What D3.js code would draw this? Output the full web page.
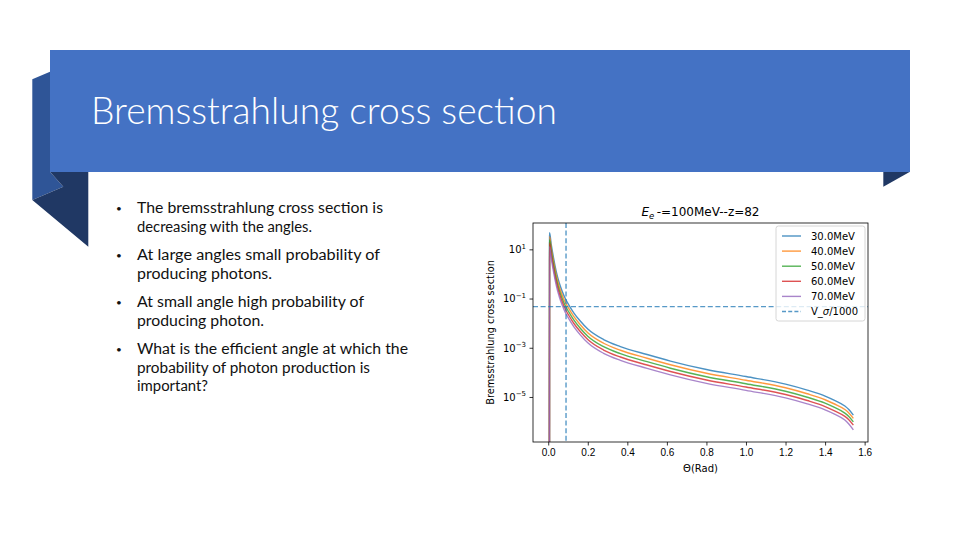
<!DOCTYPE html>
<html>
<head>
<meta charset="utf-8">
<script src="https://cdn.jsdelivr.net/npm/d3@7"></script>
<style>
  body { margin: 0; background: #fff; }
  svg { display: block; }
</style>
</head>
<body>
<svg id="slide" width="960" height="540"></svg>
<script>
// angle samples (rad)
const theta = [0.006, 0.0068, 0.015, 0.027, 0.04, 0.056, 0.07, 0.09, 0.103, 0.13, 0.162, 0.2,
  0.28, 0.365, 0.5, 0.618, 0.8, 1.0, 1.2, 1.31, 1.4, 1.445, 1.5, 1.52, 1.543];

// cross section per photon energy (first value is the zero that matplotlib clips)
const sigma30 = [0, 47, 16.4, 4.43, 1.312, 0.4266, 0.2018, 0.0869, 0.057, 0.02576, 0.01216, 0.00575,
  0.002153, 0.00112, 5.30e-4, 2.88e-4, 1.30e-4, 6.75e-5, 3.34e-5, 1.91e-5, 1.09e-5, 7.48e-6, 4.27e-6, 3.08e-6, 1.84e-6];
const sigma40 = [0, 33.2, 11.6, 3.13, 0.929, 0.302, 0.1429, 0.0615, 0.0404, 0.01824, 0.00861, 0.00407,
  0.001524, 7.92e-4, 3.75e-4, 2.04e-4, 9.20e-5, 4.78e-5, 2.37e-5, 1.35e-5, 7.71e-6, 5.30e-6, 3.09e-6, 2.25e-6, 1.35e-6];
const sigma50 = [0, 24.0, 8.41, 2.27, 0.673, 0.2188, 0.1035, 0.0446, 0.02924, 0.01321, 0.00624, 0.00295,
  0.001104, 5.74e-4, 2.72e-4, 1.476e-4, 6.67e-5, 3.46e-5, 1.71e-5, 9.77e-6, 5.58e-6, 3.84e-6, 2.21e-6, 1.61e-6, 9.75e-7];
const sigma60 = [0, 17.6, 6.17, 1.66, 0.493, 0.1603, 0.0759, 0.03266, 0.02143, 0.00968, 0.00457, 0.002163,
  8.09e-4, 4.21e-4, 1.99e-4, 1.081e-4, 4.89e-5, 2.54e-5, 1.256e-5, 7.16e-6, 4.09e-6, 2.81e-6, 1.62e-6, 1.18e-6, 7.14e-7];
const sigma70 = [0, 12.9, 4.52, 1.22, 0.3614, 0.1175, 0.0556, 0.02393, 0.0157, 0.0071, 0.00335, 0.001585,
  5.93e-4, 3.08e-4, 1.459e-4, 7.93e-5, 3.58e-5, 1.86e-5, 9.20e-6, 5.25e-6, 3.00e-6, 2.06e-6, 1.15e-6, 8.0e-7, 4.61e-7];

const seriesNames = ['30.0MeV', '40.0MeV', '50.0MeV', '60.0MeV', '70.0MeV'];
const seriesValues = [sigma30, sigma40, sigma50, sigma60, sigma70];
const seriesColors = ['#1f77b4', '#ff7f0e', '#2ca02c', '#d62728', '#9467bd'];

const vSigma = 0.047;     // V_sigma / 1000
const thetaCut = 0.09;    // vertical marker

const xTicks = [0, 0.2, 0.4, 0.6, 0.8, 1.0, 1.2, 1.4, 1.6];
const yTicks = [1e-5, 1e-3, 1e-1, 1e1];
const yTickExp = ['\u22125', '\u22123', '\u22121', '1'];

const bullets = [
  ['The bremsstrahlung cross section is', 'decreasing with the angles.'],
  ['At large  angles small probability of', 'producing photons.'],
  ['At small angle high probability of', 'producing photon.'],
  ['What is the efficient angle at which the', 'probability of photon production is', 'important?']
];
// measured line widths so the Calibri-like text fills the same space
const bulletWidths = [[246, 175], [243, 135], [227, 127], [271, 233, 71]];

const svg = d3.select('#slide');

// ---- slide decoration ----
svg.append('polygon')
  .attr('points', '32.3,79.3 50,71.7 50,171.7 63.3,186.7 32.3,200')
  .attr('fill', '#2f5597');
svg.append('polygon')
  .attr('points', '50,171.7 88.3,171.7 88.3,246.7 32.3,200 63.3,186.7')
  .attr('fill', '#203864');
svg.append('polygon')
  .attr('points', '883.3,171.7 910,171.7 883.3,186.7')
  .attr('fill', '#203864');
svg.append('rect')
  .attr('x', 50).attr('y', 50).attr('width', 860).attr('height', 122)
  .attr('fill', '#4472c4');

svg.append('text')
  .attr('x', 91).attr('y', 124)
  .attr('fill', '#fff')
  .style('font-family', 'Lato, "Open Sans", sans-serif')
  .style('font-weight', 300)
  .style('font-size', '37px')
  .attr('textLength', 466)
  .attr('lengthAdjust', 'spacingAndGlyphs')
  .text('Bremsstrahlung cross section');

// ---- bullets ----
const baselines = [[213, 231.5], [260, 278.5], [307, 325.5], [354, 372.5, 391]];
const bulletG = svg.append('g')
  .style('font-family', 'Lato, "Open Sans", sans-serif')
  .style('font-size', '14.5px')
  .attr('fill', '#111');
bullets.forEach((lines, i) => {
  bulletG.append('text')
    .attr('x', 116).attr('y', baselines[i][0] - 1)
    .style('font-size', '10px')
    .text('\u2022');
  lines.forEach((line, j) => {
    bulletG.append('text')
      .attr('x', 137).attr('y', baselines[i][j])
      .attr('textLength', bulletWidths[i][j])
      .attr('lengthAdjust', 'spacingAndGlyphs')
      .text(line);
  });
});

// ---- chart ----
const plot = { left: 533, right: 868, top: 223, bottom: 442 };

const x = d3.scaleLinear()
  .domain([-0.077, 1.617])
  .range([plot.left, plot.right]);

const y = d3.scaleLog()
  .domain([Math.pow(10, -6.83), Math.pow(10, 2.07)])
  .range([plot.bottom, plot.top]);

const chart = svg.append('g')
  .style('font-family', '"DejaVu Sans", sans-serif');

chart.append('clipPath').attr('id', 'plot-clip')
  .append('rect')
  .attr('x', plot.left).attr('y', plot.top)
  .attr('width', plot.right - plot.left).attr('height', plot.bottom - plot.top);

// non-positive values are clipped below the axes, like matplotlib does on log axes
const line = d3.line()
  .x(d => x(d[0]))
  .y(d => d[1] > 0 ? y(d[1]) : plot.bottom + 60)
  .curve(d3.curveMonotoneX);

const lines = chart.append('g').attr('clip-path', 'url(#plot-clip)');

seriesValues.forEach((vals, i) => {
  lines.append('path')
    .datum(theta.map((t, k) => [t, vals[k]]))
    .attr('d', line)
    .attr('fill', 'none')
    .attr('stroke', seriesColors[i])
    .attr('stroke-opacity', 0.8)
    .attr('stroke-width', 1.4);
});

// V_sigma/1000 and the cut angle
lines.append('line')
  .attr('x1', plot.left).attr('x2', plot.right)
  .attr('y1', y(vSigma)).attr('y2', y(vSigma))
  .attr('stroke', '#1f77b4').attr('stroke-opacity', 0.75)
  .attr('stroke-width', 1.4).attr('stroke-dasharray', '5,2.6');
lines.append('line')
  .attr('x1', x(thetaCut)).attr('x2', x(thetaCut))
  .attr('y1', plot.top).attr('y2', plot.bottom)
  .attr('stroke', '#1f77b4').attr('stroke-opacity', 0.75)
  .attr('stroke-width', 1.4).attr('stroke-dasharray', '5,2.6');

// axes
const xAxis = chart.append('g')
  .attr('transform', `translate(0,${plot.bottom})`)
  .call(d3.axisBottom(x).tickValues(xTicks).tickSize(3.5).tickPadding(3)
    .tickFormat(d3.format('.1f')));
xAxis.select('.domain').remove();
xAxis.selectAll('text').style('font-size', '10px').attr('fill', '#000');
xAxis.selectAll('line').attr('stroke', '#000').attr('stroke-width', 0.8);

const yAxis = chart.append('g')
  .attr('transform', `translate(${plot.left},0)`)
  .call(d3.axisLeft(y).tickValues(yTicks).tickSize(3.5).tickFormat(''));
yAxis.select('.domain').remove();
yAxis.selectAll('line').attr('stroke', '#000').attr('stroke-width', 0.8);

const yLabels = chart.append('g')
  .style('font-size', '10px')
  .attr('fill', '#000');
yTicks.forEach((t, i) => {
  const tx = yLabels.append('text')
    .attr('x', plot.left - 7)
    .attr('y', y(t) + 3.8)
    .attr('text-anchor', 'end');
  tx.append('tspan').text('10');
  tx.append('tspan')
    .attr('dy', -4.5)
    .style('font-size', '7px')
    .text(yTickExp[i]);
});

// frame
chart.append('rect')
  .attr('x', plot.left).attr('y', plot.top)
  .attr('width', plot.right - plot.left).attr('height', plot.bottom - plot.top)
  .attr('fill', 'none').attr('stroke', '#000').attr('stroke-width', 0.8);

// labels
chart.append('text')
  .attr('x', (plot.left + plot.right) / 2).attr('y', 472)
  .attr('text-anchor', 'middle')
  .style('font-size', '10px')
  .text('\u0398(Rad)');

chart.append('text')
  .attr('transform', `translate(494,${(plot.top + plot.bottom) / 2}) rotate(-90)`)
  .attr('text-anchor', 'middle')
  .style('font-size', '9.8px')
  .text('Bremsstrahlung cross section');

const title = chart.append('text')
  .attr('x', (plot.left + plot.right) / 2).attr('y', 216)
  .attr('text-anchor', 'middle')
  .style('font-size', '12px');
title.append('tspan').style('font-style', 'italic').text('E');
title.append('tspan').style('font-style', 'italic').style('font-size', '8.5px').attr('dy', 2.5).text('e');
title.append('tspan').attr('dy', -2.5).text('\u2009-=100MeV--z=82');

// legend
const legend = chart.append('g').attr('transform', 'translate(776,226)');
legend.append('rect')
  .attr('width', 89).attr('height', 95).attr('rx', 2.5)
  .attr('fill', '#fff').attr('fill-opacity', 0.8)
  .attr('stroke', '#ccc').attr('stroke-width', 0.8);

const legendItems = seriesNames.map((n, i) => ({ name: n, color: seriesColors[i], dash: null }))
  .concat([{ name: 'V_', color: '#1f77b4', dash: '4,2.2' }]);

legendItems.forEach((item, i) => {
  const ry = 10 + i * 15.1;
  legend.append('line')
    .attr('x1', 6).attr('x2', 25)
    .attr('y1', ry).attr('y2', ry)
    .attr('stroke', item.color).attr('stroke-opacity', item.dash ? 0.75 : 0.8)
    .attr('stroke-width', 1.4)
    .attr('stroke-dasharray', item.dash);
  const tx = legend.append('text')
    .attr('x', 35).attr('y', ry + 3.6)
    .style('font-size', '10px');
  tx.append('tspan').text(item.name);
  if (item.dash) {
    tx.append('tspan').style('font-style', 'italic').text('\u03c3');
    tx.append('tspan').text('/1000');
  }
});
</script>
</body>
</html>
